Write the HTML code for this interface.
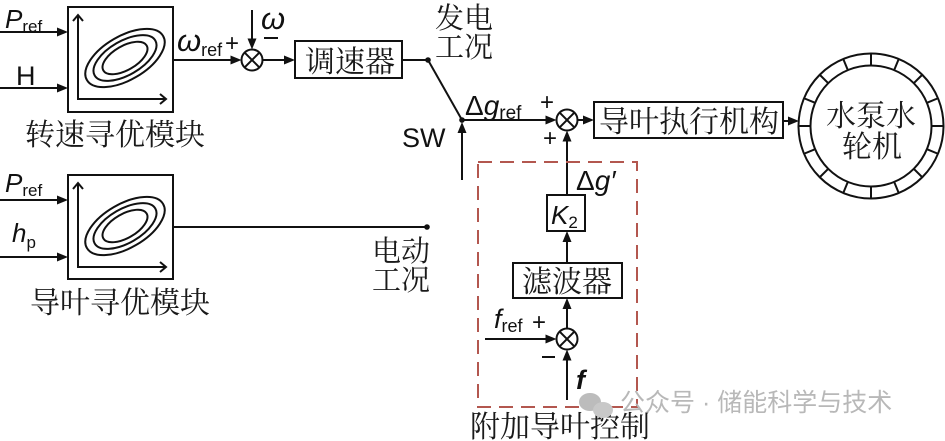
<!DOCTYPE html>
<html><head><meta charset="utf-8"><style>
html,body{margin:0;padding:0;background:#fff;}
svg{display:block;}
.cn{font-family:"Liberation Serif","Noto Serif CJK SC",serif;font-size:30px;fill:#1a1a1a;}
.lt{font-family:"Liberation Sans",sans-serif;fill:#111;}
</style></head><body>
<svg width="945" height="441" viewBox="0 0 945 441" xmlns="http://www.w3.org/2000/svg">
<g stroke="#111" stroke-width="2" fill="none">
  <rect x="68" y="7" width="105" height="105"/>
  <polyline points="78,16 78,99 166,99"/>
  <polyline points="73,21 78,15 83,21"/>
  <polyline points="160,94 166,99 160,104"/>
  <g transform="translate(125,58) rotate(-30)">
    <ellipse rx="44" ry="22"/><ellipse rx="35" ry="17"/><ellipse rx="25" ry="12"/>
  </g>
  <rect x="68" y="175" width="105" height="104"/>
  <polyline points="78,184 78,267 166,267"/>
  <polyline points="73,189 78,183 83,189"/>
  <polyline points="160,262 166,267 160,272"/>
  <g transform="translate(125,226) rotate(-30)">
    <ellipse rx="44" ry="22"/><ellipse rx="35" ry="17"/><ellipse rx="25" ry="12"/>
  </g>
  <line x1="0" y1="32" x2="60" y2="32"/>
  <line x1="0" y1="88" x2="60" y2="88"/>
  <line x1="0" y1="200" x2="60" y2="200"/>
  <line x1="0" y1="257" x2="60" y2="257"/>
  <line x1="173" y1="60" x2="234" y2="60"/>
  <line x1="252" y1="10" x2="252" y2="42"/>
  <circle cx="252" cy="60" r="10.5"/>
  <line x1="244.6" y1="52.6" x2="259.4" y2="67.4"/>
  <line x1="244.6" y1="67.4" x2="259.4" y2="52.6"/>
  <line x1="262.5" y1="60" x2="287" y2="60"/>
  <rect x="295" y="41" width="107" height="37"/>
  <line x1="402" y1="60" x2="428" y2="60"/>
  <line x1="428" y1="60" x2="462" y2="120"/>
  <line x1="462" y1="180" x2="462" y2="130"/>
  <line x1="462" y1="120" x2="548" y2="120"/>
  <circle cx="567" cy="120" r="10.5"/>
  <line x1="559.6" y1="112.6" x2="574.4" y2="127.4"/>
  <line x1="559.6" y1="127.4" x2="574.4" y2="112.6"/>
  <line x1="577.5" y1="120" x2="586" y2="120"/>
  <rect x="594" y="102" width="189" height="36"/>
  <line x1="783" y1="121" x2="791" y2="121"/>
  <circle cx="871" cy="126" r="72.5"/>
  <circle cx="871" cy="126" r="60.5"/>
  <line x1="173" y1="227" x2="427" y2="227"/>
  <line x1="567" y1="195" x2="567" y2="139"/>
  <rect x="547" y="195" width="38" height="36"/>
  <line x1="567" y1="263" x2="567" y2="239"/>
  <rect x="513" y="263" width="109" height="35"/>
  <line x1="567" y1="328.5" x2="567" y2="306"/>
  <circle cx="567" cy="339" r="10.5"/>
  <line x1="559.6" y1="331.6" x2="574.4" y2="346.4"/>
  <line x1="559.6" y1="346.4" x2="574.4" y2="331.6"/>
  <line x1="485" y1="339" x2="549" y2="339"/>
  <line x1="567" y1="400" x2="567" y2="357"/>
  <line x1="264" y1="38" x2="278" y2="38"/>
  <line x1="542" y1="357" x2="555" y2="357"/>
</g>
<g stroke="#111" stroke-width="2" transform="translate(871,126)">
  <line x1="0" y1="-60.5" x2="0" y2="-72.5" transform="rotate(0)"/>
  <line x1="0" y1="-60.5" x2="0" y2="-72.5" transform="rotate(22.5)"/>
  <line x1="0" y1="-60.5" x2="0" y2="-72.5" transform="rotate(45)"/>
  <line x1="0" y1="-60.5" x2="0" y2="-72.5" transform="rotate(67.5)"/>
  <line x1="0" y1="-60.5" x2="0" y2="-72.5" transform="rotate(90)"/>
  <line x1="0" y1="-60.5" x2="0" y2="-72.5" transform="rotate(112.5)"/>
  <line x1="0" y1="-60.5" x2="0" y2="-72.5" transform="rotate(135)"/>
  <line x1="0" y1="-60.5" x2="0" y2="-72.5" transform="rotate(157.5)"/>
  <line x1="0" y1="-60.5" x2="0" y2="-72.5" transform="rotate(180)"/>
  <line x1="0" y1="-60.5" x2="0" y2="-72.5" transform="rotate(202.5)"/>
  <line x1="0" y1="-60.5" x2="0" y2="-72.5" transform="rotate(225)"/>
  <line x1="0" y1="-60.5" x2="0" y2="-72.5" transform="rotate(247.5)"/>
  <line x1="0" y1="-60.5" x2="0" y2="-72.5" transform="rotate(270)"/>
  <line x1="0" y1="-60.5" x2="0" y2="-72.5" transform="rotate(292.5)"/>
  <line x1="0" y1="-60.5" x2="0" y2="-72.5" transform="rotate(315)"/>
  <line x1="0" y1="-60.5" x2="0" y2="-72.5" transform="rotate(337.5)"/>
</g>
<g fill="#111">
  <polygon points="68,32 57,27.5 57,36.5"/>
  <polygon points="68,88 57,83.5 57,92.5"/>
  <polygon points="68,200 57,195.5 57,204.5"/>
  <polygon points="68,257 57,252.5 57,261.5"/>
  <polygon points="241.5,60 230.5,55.5 230.5,64.5"/>
  <polygon points="252,49.5 247.5,38.5 256.5,38.5"/>
  <polygon points="295,60 284,55.5 284,64.5"/>
  <polygon points="462,122 457.5,133 466.5,133"/>
  <polygon points="556.5,120 545.5,115.5 545.5,124.5"/>
  <polygon points="594,120 583,115.5 583,124.5"/>
  <polygon points="799,121 788,116.5 788,125.5"/>
  <polygon points="567,130.5 562.5,141.5 571.5,141.5"/>
  <polygon points="567,231 562.5,242 571.5,242"/>
  <polygon points="567,298 562.5,309 571.5,309"/>
  <polygon points="556.5,339 545.5,334.5 545.5,343.5"/>
  <polygon points="567,349.5 562.5,360.5 571.5,360.5"/>
  <circle cx="428" cy="60" r="2.8"/>
  <circle cx="462" cy="120" r="2.8"/>
  <circle cx="427" cy="227" r="2.8"/>
</g>
<rect x="478" y="162" width="159" height="245" fill="none" stroke="#b3574f" stroke-width="2" stroke-dasharray="14 8"/>
<text class="cn" x="25" y="145">转速寻优模块</text>
<text class="cn" x="30" y="313">导叶寻优模块</text>
<text class="cn" x="305" y="72">调速器</text>
<text class="cn" x="435" y="28" style="font-size:29px">发电</text>
<text class="cn" x="435" y="57" style="font-size:29px">工况</text>
<text class="cn" x="372" y="261" style="font-size:29px">电动</text>
<text class="cn" x="372" y="290" style="font-size:29px">工况</text>
<text class="cn" x="599" y="132">导叶执行机构</text>
<text class="cn" x="826" y="126">水泵水</text>
<text class="cn" x="842" y="157">轮机</text>
<text class="cn" x="522" y="292">滤波器</text>
<text class="cn" x="470" y="437">附加导叶控制</text>
<text class="lt" x="5" y="28" font-size="26"><tspan font-style="italic">P</tspan><tspan font-size="17" dy="4">ref</tspan></text>
<text class="lt" x="16" y="85" font-size="27">H</text>
<text class="lt" x="5" y="192" font-size="26"><tspan font-style="italic">P</tspan><tspan font-size="17" dy="4">ref</tspan></text>
<text class="lt" x="12" y="242" font-size="26"><tspan font-style="italic">h</tspan><tspan font-size="17" dy="6">p</tspan></text>
<text class="lt" x="177" y="51" font-size="31"><tspan font-style="italic">ω</tspan><tspan font-size="18" dy="5">ref</tspan></text>
<text class="lt" x="225" y="51" font-size="24">+</text>
<text class="lt" x="261" y="29" font-size="31" font-style="italic">ω</text>
<text class="lt" x="402" y="147" font-size="27">SW</text>
<text class="lt" x="465" y="115" font-size="28"><tspan>Δ</tspan><tspan font-style="italic">g</tspan><tspan font-size="19" dy="4">ref</tspan></text>
<text class="lt" x="540" y="110" font-size="24">+</text>
<text class="lt" x="543" y="146" font-size="24">+</text>
<text class="lt" x="576" y="190" font-size="28"><tspan>Δ</tspan><tspan font-style="italic">g′</tspan></text>
<text class="lt" x="551" y="224" font-size="26"><tspan font-style="italic">K</tspan><tspan font-size="17" dy="4">2</tspan></text>
<text class="lt" x="494" y="328" font-size="27"><tspan font-style="italic">f</tspan><tspan font-size="18" dy="4">ref</tspan></text>
<text class="lt" x="532" y="330" font-size="24">+</text>
<text class="lt" x="576" y="389" font-size="27" font-style="italic" font-weight="bold">f</text>
<g fill="#bcbcbc">
  <ellipse cx="590" cy="402" rx="11" ry="9"/>
  <ellipse cx="603" cy="410" rx="10" ry="8" fill="#c8c8c8"/>
</g>
<text x="620" y="411" font-family="'Liberation Sans','Noto Sans CJK SC',sans-serif" font-size="25" fill="#b8b8b8">公众号 · 储能科学与技术</text>
</svg>
</body></html>
